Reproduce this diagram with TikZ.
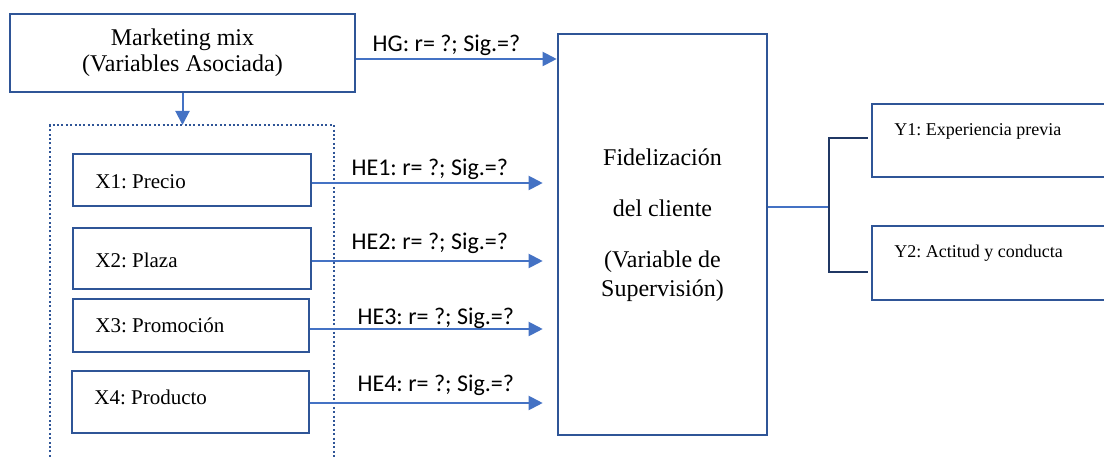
\documentclass[tikz,border=0pt]{standalone}
\usepackage{fontspec}
\setmainfont{Liberation Serif}
\newfontfamily\calibri{Carlito}
\usetikzlibrary{arrows.meta}
\definecolor{boxblue}{HTML}{2F5597}
\definecolor{arrblue}{HTML}{4472C4}
\definecolor{navy}{HTML}{203864}
\frenchspacing
\begin{document}
\begin{tikzpicture}[x=0.5pt, y=-0.5pt,
    box/.style={draw=boxblue, line width=1.3pt, rectangle, inner sep=0pt},
    xtxt/.style={anchor=west, inner sep=0pt, font=\fontsize{10.5}{12}\selectfont},
    ytxt/.style={anchor=west, inner sep=0pt, font=\fontsize{9}{11}\selectfont},
    lbl/.style={above, inner sep=1pt, font=\calibri\fontsize{12}{14}\selectfont},
    arr/.style={draw=arrblue, line width=1pt, -{Triangle[length=7pt,width=7pt]}}]
    \useasboundingbox (0,0) rectangle (1104,459);
    % independiente
    \node[box, minimum width=172.5pt, minimum height=39pt, align=center,
          font=\fontsize{12}{13}\selectfont] (mkt) at (182.5,53) {Marketing mix\\(Variables Asociada)};
    \coordinate (grptop) at (182.5,125);
    \draw[draw=boxblue, line width=1pt, dash pattern=on 1pt off 1.2pt] (50,470) |- (334,125) -- (334,470);
    \draw[arr] (mkt.south) -- (grptop);
    \node[box, minimum width=119pt, minimum height=26pt] (x1) at (192,180) {};
    \node[box, minimum width=119pt, minimum height=30.5pt] (x2) at (192,258.5) {};
    \node[box, minimum width=118pt, minimum height=26.5pt] (x3) at (191,325.5) {};
    \node[box, minimum width=118.5pt, minimum height=31pt] (x4) at (190.5,402) {};
    \node[xtxt] (x1t) at (95,182) {X1: Precio};
    \node[xtxt] (x2t) at (95,260) {X2: Plaza};
    \node[xtxt] (x3t) at (95,325) {X3: Promoción};
    \node[xtxt] (x4t) at (94,397) {X4: Producto};
    % dependiente
    \node[box, minimum width=104.5pt, minimum height=200.5pt] (fid) at (662.5,234.5) {};
    \node[align=center, font=\fontsize{12}{14.5}\selectfont] (fidt) at (662.5,225)
        {Fidelización\\[11pt]del cliente\\[11pt](Variable de\\Supervisión)};
    \coordinate (fidin) at ([xshift=-7pt]fid.west);
    \draw[arr] ([yshift=-3pt]mkt.east) -- ([yshift=-3pt]mkt.east -| fid.west)
        node[lbl, pos=0.45] (hg) {HG: r= ?; Sig.=?};
    \draw[arr] ([yshift=-1.5pt]x1.east) -- ([yshift=-1.5pt]x1.east -| fidin)
        node[lbl, pos=0.51] (he1) {HE1: r= ?; Sig.=?};
    \draw[arr] ([yshift=-1.25pt]x2.east) -- ([yshift=-1.25pt]x2.east -| fidin)
        node[lbl, pos=0.51, yshift=2pt] (he2) {HE2: r= ?; Sig.=?};
    \draw[arr] ([yshift=-1.75pt]x3.east) -- ([yshift=-1.75pt]x3.east -| fidin)
        node[lbl, pos=0.54, yshift=-1.5pt] (he3) {HE3: r= ?; Sig.=?};
    \draw[arr] ([yshift=-0.5pt]x4.east) -- ([yshift=-0.5pt]x4.east -| fidin)
        node[lbl, pos=0.54, yshift=2pt] (he4) {HE4: r= ?; Sig.=?};
    % dimensiones
    \node[box, minimum width=119pt, minimum height=36.5pt] (y1) at (991,140.5) {};
    \node[box, minimum width=119pt, minimum height=37pt] (y2) at (991,263) {};
    \node[ytxt] (y1t) at (894,131) {Y1: Experiencia previa};
    \node[ytxt] (y2t) at (894,253) {Y2: Actitud y conducta};
    \coordinate (jn) at (829,207);
    \draw[arrblue, line width=1pt] ([yshift=13.75pt]fid.east) -- (jn);
    \draw[navy, line width=1.2pt] ([xshift=-1.5pt,yshift=1.25pt]y1.west) -| (jn)
        |- ([xshift=-1.5pt,yshift=-4.5pt]y2.west);
\end{tikzpicture}
\end{document}
